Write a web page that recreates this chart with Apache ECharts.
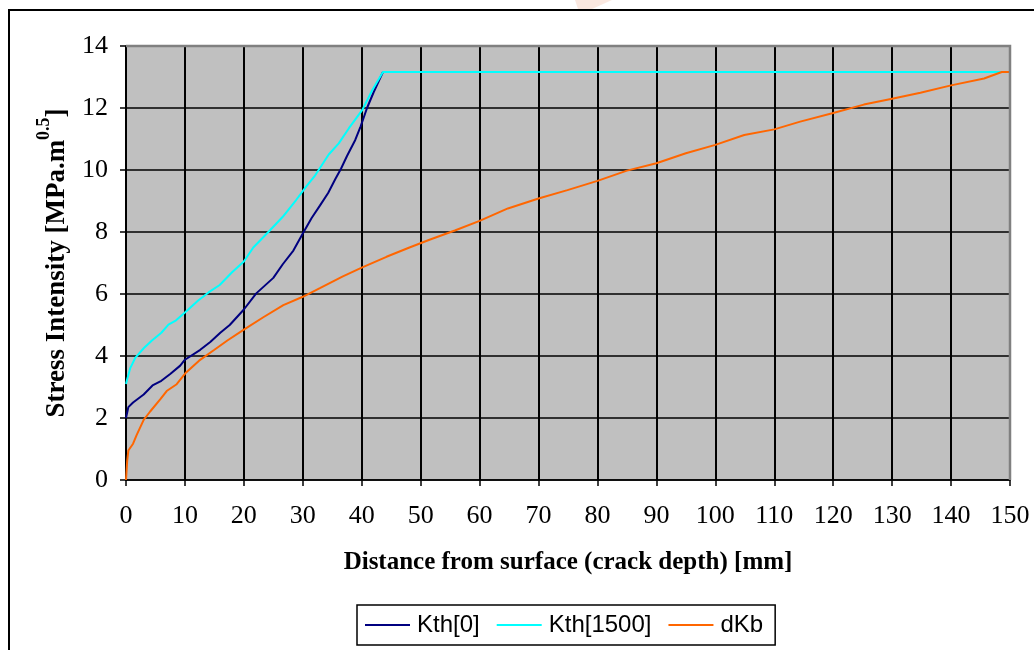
<!DOCTYPE html>
<html>
<head>
<meta charset="utf-8">
<script src="https://cdn.jsdelivr.net/npm/echarts@6/dist/echarts.min.js"></script>
<style>
  html, body { margin: 0; padding: 0; background: #fff; }
  #main { width: 1034px; height: 650px; }
</style>
</head>
<body>
<div id="main"></div>
<script>
// values
const kth0X = [0, 0.4, 1.2, 3, 4.5, 6, 7.5, 9.2, 10, 12.6, 14.3, 16, 17.6, 20, 22.1, 25, 26.6, 28.4, 30, 31.5, 32.9, 34.3, 35.5, 36.5, 37.5, 38.9, 39.8, 40.9, 42, 43.6];
const kth0Y = [2.0, 2.35, 2.5, 2.76, 3.05, 3.2, 3.42, 3.69, 3.88, 4.2, 4.45, 4.75, 5.0, 5.5, 6.02, 6.52, 6.96, 7.4, 7.95, 8.45, 8.85, 9.26, 9.7, 10.05, 10.45, 10.97, 11.4, 12.0, 12.5, 13.16];

const kth1500X = [0, 0.2, 0.7, 1.6, 3, 4.4, 6, 7.2, 8.5, 10, 12.2, 14, 15.9, 18, 20, 21.6, 24.4, 26.6, 28.9, 30.5, 32, 34.4, 36.1, 37.8, 40.1, 41.8, 43.6, 150];
const kth1500Y = [3.1, 3.25, 3.6, 3.95, 4.25, 4.5, 4.75, 5.01, 5.15, 5.4, 5.78, 6.05, 6.29, 6.7, 7.05, 7.5, 8.05, 8.49, 9.04, 9.45, 9.8, 10.5, 10.86, 11.34, 11.94, 12.58, 13.16, 13.16];

const dkbX = [0, 0.2, 0.4, 1.2, 1.8, 3, 4.1, 5.8, 6.9, 8.6, 10.2, 12.4, 15, 17.2, 20, 23.3, 26.7, 30, 32.9, 36.8, 40, 44.2, 48.1, 51.5, 55.8, 60, 64.8, 70, 74.9, 80, 85, 90, 95, 100, 104.9, 110, 114.4, 120, 125.2, 130, 134.8, 140, 145.6, 148.6, 150];
const dkbY = [0, 0.62, 0.95, 1.17, 1.45, 1.94, 2.21, 2.6, 2.87, 3.09, 3.47, 3.85, 4.2, 4.5, 4.85, 5.25, 5.64, 5.91, 6.19, 6.57, 6.85, 7.2, 7.5, 7.75, 8.05, 8.36, 8.76, 9.08, 9.35, 9.65, 9.98, 10.22, 10.54, 10.81, 11.13, 11.31, 11.56, 11.84, 12.11, 12.3, 12.49, 12.73, 12.95, 13.16, 13.16];

const seriesNames = ['Kth[0]', 'Kth[1500]', 'dKb'];
const seriesColors = ['#000080', '#00ffff', '#ff6600'];

const zip = (xs, ys) => xs.map((x, i) => [x, ys[i]]);

const chartDom = document.getElementById('main');
const myChart = echarts.init(chartDom);

const serif = 'Liberation Serif';

const lineSeries = (name, color, data) => ({
  name: name,
  type: 'line',
  symbol: 'none',
  smooth: false,
  lineStyle: { color: color, width: 2 },
  itemStyle: { color: color },
  data: data
});

const option = {
  animation: false,
  backgroundColor: '#ffffff',
  grid: {
    left: 126, right: 24, top: 46, bottom: 170,
    show: true,
    backgroundColor: '#c0c0c0',
    borderWidth: 0
  },
  legend: {
    data: seriesNames,
    left: 357,
    top: 605,
    icon: 'rect',
    itemWidth: 45,
    itemHeight: 2,
    itemGap: 17,
    padding: [8, 12, 8, 8],
    backgroundColor: '#ffffff',
    borderColor: '#000000',
    borderWidth: 1.5,
    borderRadius: 0,
    textStyle: { fontFamily: 'Liberation Sans', fontSize: 24, color: '#000', padding: [0, 0, 0, 2] }
  },
  xAxis: {
    type: 'value',
    min: 0, max: 150, interval: 10,
    name: 'Distance from surface (crack depth) [mm]',
    nameLocation: 'middle',
    nameGap: 70,
    nameTextStyle: { fontFamily: serif, fontSize: 25, fontWeight: 'bold', color: '#000' },
    axisLine: { show: true, onZero: false, lineStyle: { color: '#000', width: 1.5 } },
    axisTick: { show: true, inside: false, length: 6, lineStyle: { color: '#000', width: 1.5 } },
    axisLabel: { margin: 23, fontFamily: serif, fontSize: 26, color: '#000' },
    splitLine: { show: true, lineStyle: { color: '#000', width: 2 } }
  },
  yAxis: {
    type: 'value',
    min: 0, max: 14, interval: 2,
    name: '{a|Stress Intensity [MPa.m}{s|0.5}{a|]}',
    nameLocation: 'middle',
    nameGap: 55,
    nameTextStyle: {
      fontFamily: serif, fontSize: 27, fontWeight: 'bold', color: '#000',
      rich: {
        a: { fontFamily: serif, fontSize: 27, fontWeight: 'bold', color: '#000', verticalAlign: 'bottom', lineHeight: 36 },
        s: { fontFamily: serif, fontSize: 18, fontWeight: 'bold', color: '#000', verticalAlign: 'top', lineHeight: 36 }
      }
    },
    axisLine: { show: true, lineStyle: { color: '#000', width: 1.5 } },
    axisTick: { show: true, inside: false, length: 6, lineStyle: { color: '#000', width: 1.5 } },
    axisLabel: { margin: 18, fontFamily: serif, fontSize: 26, color: '#000' },
    splitLine: { show: true, lineStyle: { color: '#000', width: 1.5 } }
  },
  graphic: [
    // outer chart-area frame, cut off at the right and bottom
    { type: 'rect', shape: { x: 9, y: 10, width: 1100, height: 700 },
      style: { fill: 'none', stroke: '#000', lineWidth: 2 }, z: 100 },
    // grey plot border on top and right
    { type: 'polyline', shape: { points: [[126, 46], [1010, 46], [1010, 480]] },
      style: { fill: 'none', stroke: '#808080', lineWidth: 2.5 }, z: 100 },
    // faint watermark above the frame
    { type: 'polygon', shape: { points: [[575, 0], [612, 0], [592, 9], [578, 9]] },
      style: { fill: 'rgba(240, 190, 165, 0.35)' }, z: 1 }
  ],
  series: [
    lineSeries(seriesNames[0], seriesColors[0], zip(kth0X, kth0Y)),
    lineSeries(seriesNames[1], seriesColors[1], zip(kth1500X, kth1500Y)),
    lineSeries(seriesNames[2], seriesColors[2], zip(dkbX, dkbY))
  ]
};

myChart.setOption(option);
</script>
</body>
</html>
